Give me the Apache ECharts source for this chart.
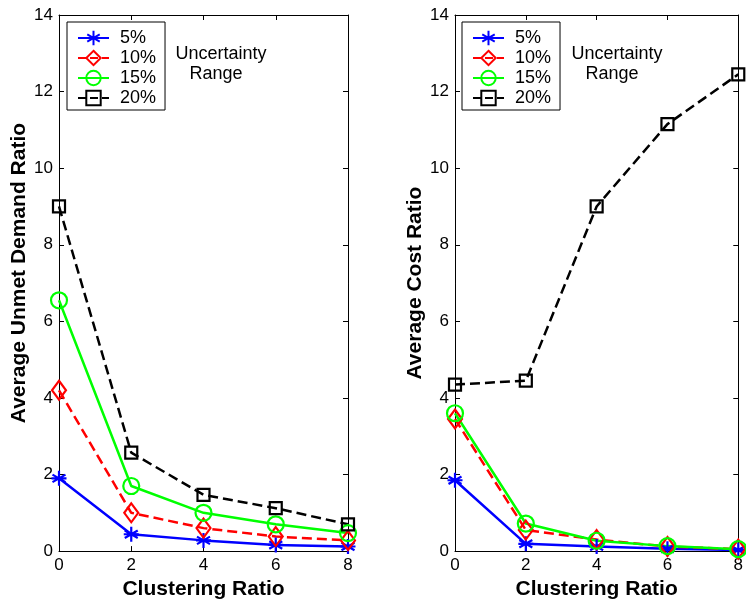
<!DOCTYPE html>
<html><head><meta charset="utf-8">
<script src="https://cdn.jsdelivr.net/npm/echarts@6/dist/echarts.min.js"></script>
<style>html,body{margin:0;padding:0;background:#fff}#c{width:746px;height:605px}</style>
</head><body><div id="c"></div>
<script>
const xValues = [0, 2, 4, 6, 8];
const seriesNames = ['5%', '10%', '15%', '20%'];
const unmet5 = [1.9, 0.44, 0.28, 0.16, 0.12];
const unmet10 = [4.2, 1.0, 0.6, 0.38, 0.28];
const unmet15 = [6.55, 1.7, 1.0, 0.7, 0.47];
const unmet20 = [9.0, 2.57, 1.47, 1.12, 0.7];
const cost5 = [1.85, 0.19, 0.12, 0.06, 0.03];
const cost10 = [3.45, 0.55, 0.3, 0.12, 0.05];
const cost15 = [3.6, 0.72, 0.27, 0.13, 0.05];
const cost20 = [4.35, 4.45, 9.0, 11.15, 12.45];
const yTicks = [0, 2, 4, 6, 8, 10, 12, 14];

const FONT = 'Liberation Sans';
const colors = ['#0000ff', '#ff0000', '#00ff00', '#000000'];
const lineTypes = ['solid', 'dashed', 'solid', 'dashed'];
const asterisk = 'path://M0 -10 L0 10 M-8.66 -5 L8.66 5 M-8.66 5 L8.66 -5 M-10 0 L10 0';
const symbols = [asterisk, 'diamond', 'circle', 'rect'];
const symSizes = [[15, 15], [14, 19], [16, 16], [12, 12]];

function pairs(arr) { return xValues.map((x, i) => [x, arr[i]]); }

function mkSeries(data, idx) {
  return data.map((arr, k) => ({
    name: seriesNames[k], type: 'line', xAxisIndex: idx * 2, yAxisIndex: idx * 2,
    data: pairs(arr), symbol: symbols[k], symbolSize: symSizes[k],
    lineStyle: { color: colors[k], width: 2.5, type: lineTypes[k] },
    itemStyle: { color: 'rgba(255,255,255,0)', borderColor: colors[k], borderWidth: 2.2 },
    emphasis: { disabled: true }, animation: false, z: 3
  }));
}

const grids = [
  { left: 59, top: 15, width: 289, height: 539 },
  { left: 455, top: 15, width: 288, height: 539 }
];
const yNames = ['Average Unmet Demand Ratio', 'Average Cost Ratio'];
const yNamePad = [[0, 0, 0, 20], [0, 0, 0, 0]];

const xAxes = [], yAxes = [];
grids.forEach((g, i) => {
  xAxes.push({
    type: 'value', gridIndex: i, min: 0, max: 8, interval: 2, position: 'bottom',
    axisLine: { show: true, lineStyle: { color: '#000', width: 1 } },
    axisTick: { show: true, inside: true, length: 5, lineStyle: { color: '#000' } },
    axisLabel: { color: '#000', fontSize: 17, fontFamily: FONT, margin: 6 },
    splitLine: { show: false },
    name: 'Clustering Ratio', nameLocation: 'middle', nameGap: 27,
    nameTextStyle: { color: '#000', fontSize: 21, fontWeight: 'bold', fontFamily: FONT }
  });
  xAxes.push({
    type: 'value', gridIndex: i, min: 0, max: 8, interval: 2, position: 'top',
    axisLine: { show: true, onZero: false, lineStyle: { color: '#000', width: 1 } },
    axisTick: { show: true, inside: true, length: 5, lineStyle: { color: '#000' } },
    axisLabel: { show: false }, splitLine: { show: false }
  });
  yAxes.push({
    type: 'value', gridIndex: i, min: 0, max: 14, interval: 2, position: 'left',
    axisLine: { show: true, lineStyle: { color: '#000', width: 1 } },
    axisTick: { show: true, inside: true, length: 5, lineStyle: { color: '#000' } },
    axisLabel: { color: '#000', fontSize: 17, fontFamily: FONT, margin: 6,
      formatter: v => yTicks.includes(v) ? String(v) : '' },
    splitLine: { show: false },
    name: yNames[i], nameLocation: 'middle', nameGap: 27,
    nameTextStyle: { color: '#000', fontSize: 21, fontWeight: 'bold', fontFamily: FONT, padding: yNamePad[i] }
  });
  yAxes.push({
    type: 'value', gridIndex: i, min: 0, max: 14, interval: 2, position: 'right',
    axisLine: { show: true, onZero: false, lineStyle: { color: '#000', width: 1 } },
    axisTick: { show: true, inside: true, length: 5, lineStyle: { color: '#000' } },
    axisLabel: { show: false }, splitLine: { show: false }
  });
});

function mkLegend(left) {
  return {
    left: left, top: 22, orient: 'vertical', data: seriesNames,
    backgroundColor: '#fff', borderColor: '#000', borderWidth: 1,
    padding: [7, 9, 3, 10], itemGap: 2, itemWidth: 31, itemHeight: 18,
    textStyle: { color: '#000', fontSize: 18, fontFamily: FONT, padding: [0, 0, 0, 6] },
    selectedMode: false
  };
}

const txt = (x, y, s) => ({ type: 'text', x: x, y: y,
  style: { text: s, fill: '#000', font: '18px "Liberation Sans"', textAlign: 'center', textVerticalAlign: 'top' } });

const option = {
  backgroundColor: '#fff',
  animation: false,
  grid: grids,
  xAxis: xAxes,
  yAxis: yAxes,
  legend: [mkLegend(67), mkLegend(462)],
  series: mkSeries([unmet5, unmet10, unmet15, unmet20], 0)
    .concat(mkSeries([cost5, cost10, cost15, cost20], 1)),
  graphic: [
    txt(221, 45, 'Uncertainty'), txt(216, 65, 'Range'),
    txt(617, 45, 'Uncertainty'), txt(612, 65, 'Range')
  ]
};
const chart = echarts.init(document.getElementById('c'), null, { renderer: 'canvas' });
chart.setOption(option);
</script></body></html>
